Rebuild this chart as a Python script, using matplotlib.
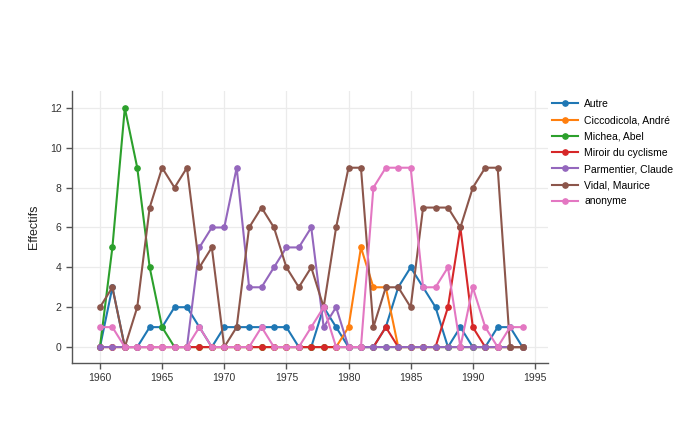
import numpy as np
import matplotlib
matplotlib.use('Agg')
import matplotlib.pyplot as plt

plt.rcParams.update({
    "font.family": ["Liberation Sans", "DejaVu Sans"],
    "font.size": 7.5,
})

years = list(range(1960, 1995))

autre = [0, 3, 0, 0, 1, 1, 2, 2, 1, 0, 1, 1, 1, 1, 1, 1, 0, 0, 2, 1,
         0, 0, 0, 1, 3, 4, 3, 2, 0, 1, 0, 0, 1, 1, 0]
ciccodicola = [0, 0, 0, 0, 0, 0, 0, 0, 0, 0, 0, 0, 0, 0, 0, 0, 0, 0, 0, 0,
               1, 5, 3, 3, 0, 0, 0, 0, 0, 0, 0, 0, 0, 0, 0]
michea = [0, 5, 12, 9, 4, 1, 0, 0, 0, 0, 0, 0, 0, 0, 0, 0, 0, 0, 0, 0,
          0, 0, 0, 0, 0, 0, 0, 0, 0, 0, 0, 0, 0, 0, 0]
miroir = [0, 0, 0, 0, 0, 0, 0, 0, 0, 0, 0, 0, 0, 0, 0, 0, 0, 0, 0, 0,
          0, 0, 0, 1, 0, 0, 0, 0, 2, 6, 1, 0, 0, 0, 0]
parmentier = [0, 0, 0, 0, 0, 0, 0, 0, 5, 6, 6, 9, 3, 3, 4, 5, 5, 6, 1, 2,
              0, 0, 0, 0, 0, 0, 0, 0, 0, 0, 0, 0, 0, 0, 0]
vidal = [2, 3, 0, 2, 7, 9, 8, 9, 4, 5, 0, 1, 6, 7, 6, 4, 3, 4, 2, 6,
         9, 9, 1, 3, 3, 2, 7, 7, 7, 6, 8, 9, 9, 0, 0]
anonyme = [1, 1, 0, 0, 0, 0, 0, 0, 1, 0, 0, 0, 0, 1, 0, 0, 0, 1, 2, 0,
           0, 0, 8, 9, 9, 9, 3, 3, 4, 0, 3, 1, 0, 1, 1]

series = [
    ("Autre", autre, "#1f77b4"),
    ("Ciccodicola, André", ciccodicola, "#ff7f0e"),
    ("Michea, Abel", michea, "#2ca02c"),
    ("Miroir du cyclisme", miroir, "#d62728"),
    ("Parmentier, Claude", parmentier, "#9467bd"),
    ("Vidal, Maurice", vidal, "#8c564b"),
    ("anonyme", anonyme, "#e377c2"),
]

fig = plt.figure(figsize=(6.79, 4.28), dpi=100)
ax = fig.add_axes([72 / 679, (428 - 363) / 428, (548 - 72) / 679, (363 - 91) / 428])

for name, vals, col in series:
    ax.plot(years, vals, '-o', color=col, lw=1.5, markersize=3.8, label=name)

ax.set_xlim(1957.75, 1996.05)
ax.set_ylim(-0.8, 12.85)
ax.set_xticks(range(1960, 1996, 5))
ax.set_yticks(range(0, 13, 2))
ax.grid(True, color='#ebebeb', lw=0.9)
ax.set_axisbelow(True)
for s in ['top', 'right']:
    ax.spines[s].set_visible(False)
for s in ['left', 'bottom']:
    ax.spines[s].set_color('#555555')
    ax.spines[s].set_linewidth(1)
ax.tick_params(colors='#555555', labelcolor='#333333', length=4, width=1, labelsize=7.5)
ax.set_ylabel("Effectifs", fontsize=9, color='#222222', labelpad=7)

fig.legend(*ax.get_legend_handles_labels(), loc='upper left',
           bbox_to_anchor=(552 / 679, 1 - 99 / 428), frameon=False,
           fontsize=7.5, handlelength=2.5, handletextpad=0.6,
           labelspacing=0.6, borderaxespad=0, borderpad=0)

plt.savefig('out.png', dpi=100, facecolor='white')
